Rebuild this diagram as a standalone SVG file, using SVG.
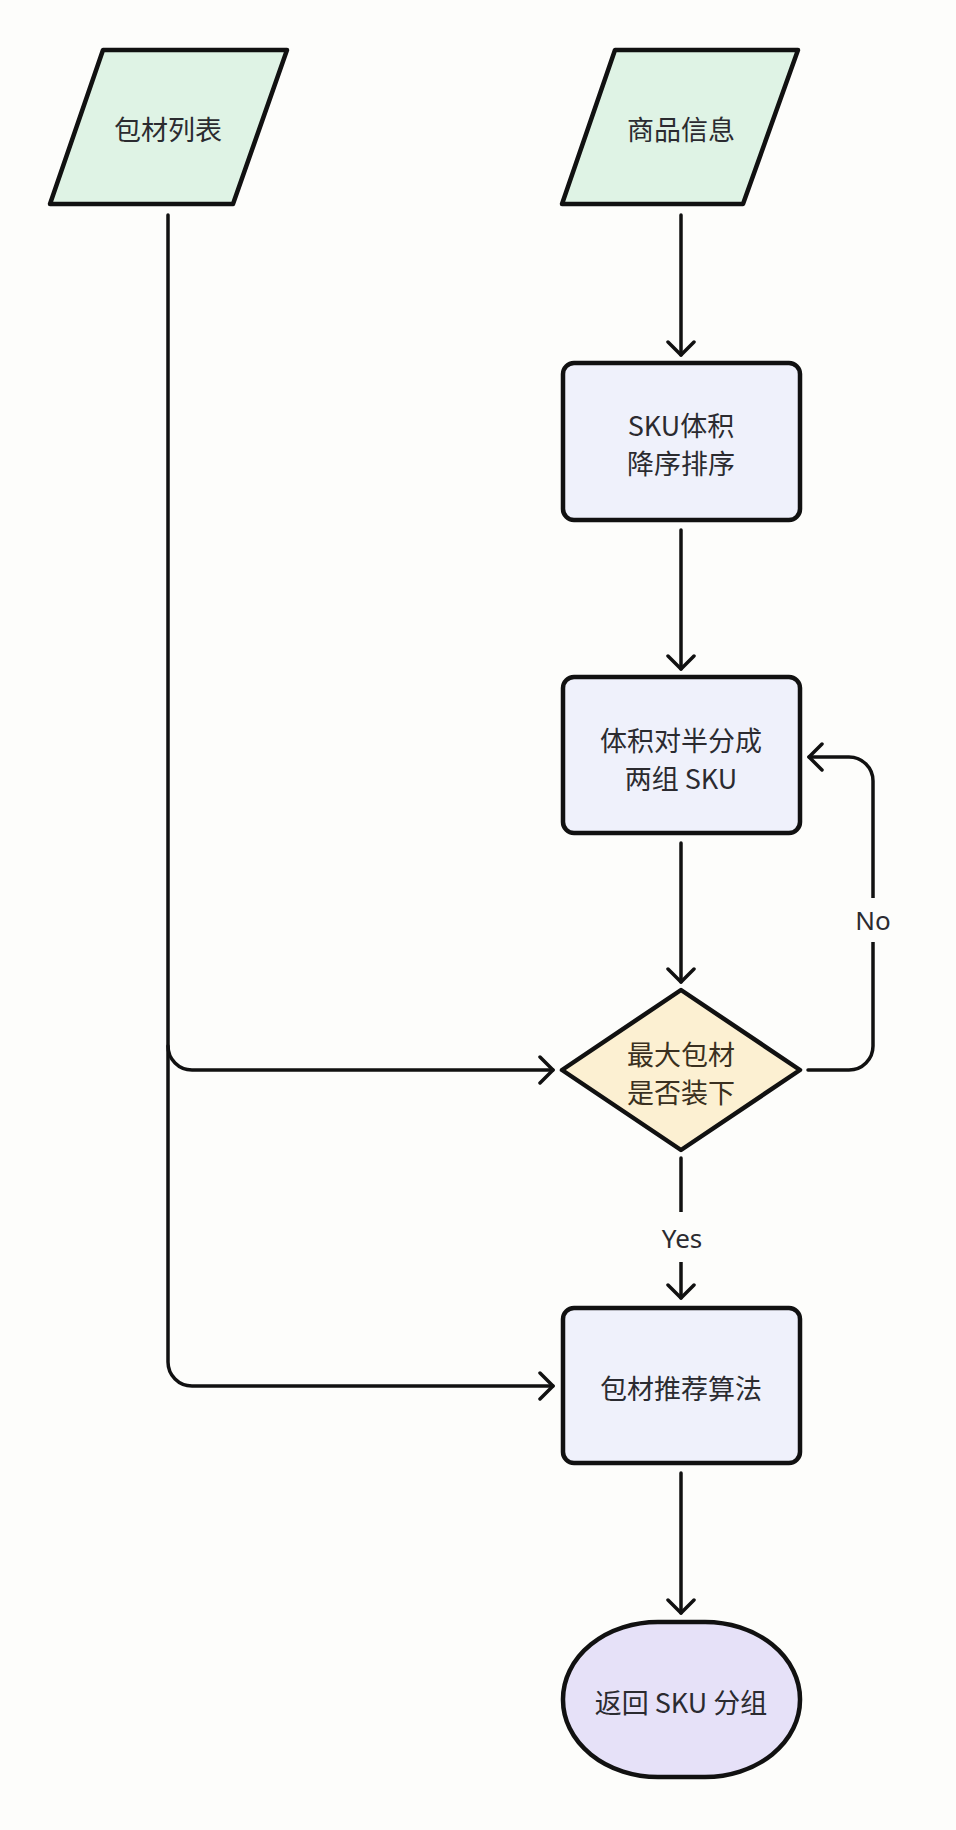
<svg xmlns="http://www.w3.org/2000/svg" width="956" height="1830" viewBox="0 0 956 1830">
<defs>
<style>
.io{fill:#dff3e5;stroke:#111;stroke-width:4.5;stroke-linejoin:round}
.proc{fill:#eff1fb;stroke:#111;stroke-width:4.5}
.dec{fill:#fcf0d2;stroke:#111;stroke-width:4.5;stroke-linejoin:round}
.term{fill:#e6e1f8;stroke:#111;stroke-width:4.5}
.t{font-family:"Noto Sans CJK SC","Noto Sans",sans-serif;font-size:27px;fill:#2b2b30;text-anchor:middle;dominant-baseline:central}
.td{fill:#3a3020}
.c{fill:none;stroke:#111;stroke-width:3.5;stroke-linecap:round;stroke-linejoin:round}
.lbl{font-family:"Noto Sans","Noto Sans CJK SC",sans-serif;font-size:26px;fill:#2b2b30;text-anchor:middle;dominant-baseline:central}
</style>
<marker id="ah" viewBox="0 0 30 30" refX="16" refY="15" markerWidth="30" markerHeight="30" markerUnits="userSpaceOnUse" orient="auto">
<path d="M3,2 L16,15 L3,28" fill="none" stroke="#111" stroke-width="3.5" stroke-linecap="round" stroke-linejoin="round"/>
</marker>
</defs>
<rect width="956" height="1830" fill="#fdfdfb"/>
<g id="connectors">
<path class="c" d="M681 215 V355" marker-end="url(#ah)"/>
<path class="c" d="M681 530 V669" marker-end="url(#ah)"/>
<path class="c" d="M681 843 V982" marker-end="url(#ah)"/>
<path class="c" d="M681 1158 V1298" marker-end="url(#ah)"/>
<path class="c" d="M681 1473 V1613" marker-end="url(#ah)"/>
<path class="c" d="M168 215 V1362 A24 24 0 0 0 192 1386 H553" marker-end="url(#ah)"/>
<path class="c" d="M168 1046 A24 24 0 0 0 192 1070 H553" marker-end="url(#ah)"/>
<path class="c" d="M808 1070 H849 A24 24 0 0 0 873 1046 V781 A24 24 0 0 0 849 757 H809" marker-end="url(#ah)"/>
<rect x="650" y="1212" width="62" height="50" fill="#fdfdfb"/>
<text class="lbl" x="682" y="1238">Yes</text>
<rect x="848" y="898" width="50" height="44" fill="#fdfdfb"/>
<text class="lbl" x="873" y="920">No</text>
</g>
<g id="n_packlist">
<polygon class="io" points="103,50 287,50 233,204 50,204"/>
<text class="t" x="168" y="128">包材列表</text>
</g>
<g id="n_goods">
<polygon class="io" points="615,50 798,50 743,204 562,204"/>
<text class="t" x="681" y="128">商品信息</text>
</g>
<g id="n_sort">
<rect class="proc" x="563" y="363" width="237" height="157" rx="11"/>
<text class="t" x="681" y="424">SKU体积</text>
<text class="t" x="681" y="462">降序排序</text>
</g>
<g id="n_split">
<rect class="proc" x="563" y="677" width="237" height="156" rx="11"/>
<text class="t" x="681" y="739">体积对半分成</text>
<text class="t" x="681" y="777">两组 SKU</text>
</g>
<g id="n_decide">
<polygon class="dec" points="681,990 800,1070 681,1150 562,1070"/>
<text class="t td" x="681" y="1053">最大包材</text>
<text class="t td" x="681" y="1091">是否装下</text>
</g>
<g id="n_algo">
<rect class="proc" x="563" y="1308" width="237" height="155" rx="11"/>
<text class="t" x="681" y="1387">包材推荐算法</text>
</g>
<g id="n_return">
<rect class="term" x="563" y="1622" width="237" height="155" rx="95" ry="77"/>
<text class="t" x="681" y="1701">返回 SKU 分组</text>
</g>
</svg>
